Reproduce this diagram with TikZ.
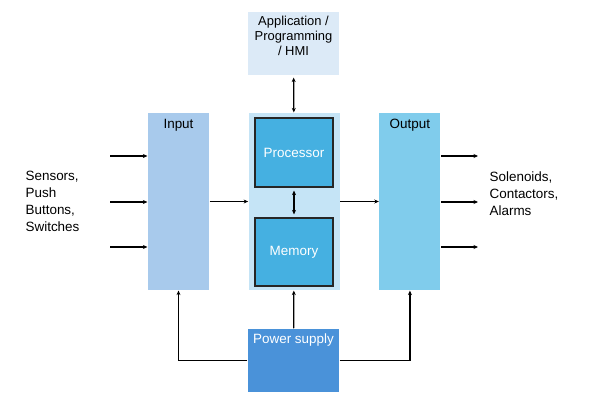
\documentclass[tikz,border=0pt]{standalone}
\usepackage{fontspec}
\setmainfont{Liberation Sans}
\usepackage{xcolor}
\usetikzlibrary{arrows.meta,positioning}

\definecolor{inblue}{RGB}{168,202,236}
\definecolor{cpublue}{RGB}{197,228,246}
\definecolor{procblue}{RGB}{69,176,225}
\definecolor{outblue}{RGB}{128,204,236}
\definecolor{appblue}{RGB}{220,234,247}
\definecolor{psublue}{RGB}{74,146,217}

\begin{document}
\begin{tikzpicture}[x=1bp,y=-1bp,node distance=38.5bp,
  every node/.style={font=\fontsize{13.5}{17}\selectfont},
  >={Stealth[length=4.5bp,width=4bp]},
  every path/.style={line width=1.2bp}]
\useasboundingbox (0,0) rectangle (596,402);
\node[fill=inblue,inner sep=0pt,minimum width=61bp,minimum height=177bp,
  label={[anchor=north,inner sep=0pt,yshift=-6bp]north:Input}] (in) at (178.5,201.5) {};
\node[fill=cpublue,inner sep=0pt,right=of in,minimum width=91bp,minimum height=177bp] (cpu) {};
\node[fill=outblue,inner sep=0pt,right=of cpu,minimum width=61bp,minimum height=177bp,
  label={[anchor=north,inner sep=0pt,yshift=-6bp]north:Output}] (out) {};
\node[draw=black!85,fill=procblue,text=white,minimum width=78bp,minimum height=69bp] (proc) at (294,152.5) {Processor};
\node[draw=black!85,fill=procblue,text=white,minimum width=78bp,minimum height=68bp] (mem) at (294,252) {Memory};
\node[fill=appblue,inner sep=0pt,minimum width=91bp,minimum height=63bp,
  label={[anchor=north,align=center,inner sep=0pt,yshift=-4bp,font=\fontsize{13}{15}\selectfont]north:Application /\\Programming\\/ HMI}] (app) at (293.5,43.5) {};
\node[fill=psublue,inner sep=0pt,minimum width=91bp,minimum height=63bp,
  label={[anchor=north,inner sep=0pt,yshift=-5bp,text=white]north:Power supply}] (psu) at (293.5,360.5) {};
\node[anchor=west,align=left,inner sep=0pt] (sens) at (25,201) {Sensors,\\Push\\Buttons,\\Switches};
\node[anchor=west,align=left,inner sep=0pt] (act) at (489,193.5) {Solenoids,\\Contactors,\\Alarms};
\draw[<->,shorten <=2bp] (app) -- (cpu);
\draw[<->,shorten <=3bp,shorten >=3bp] (proc) -- (mem);
\draw[->] (in) -- (cpu);
\draw[->] (cpu) -- (out);
\foreach \y [count=\i] in {156,202,247} {
  \coordinate (src\i) at (110,\y);
  \coordinate (dst\i) at (478,\y);
  \draw[->] (src\i) -- (src\i -| in.west);
  \draw[->] (dst\i -| out.east) -- (dst\i);
}
\draw[->] (psu) -- (cpu);
\draw[->] (psu.west) -| (in);
\draw[->] (psu.east) -| (out);
\end{tikzpicture}
\end{document}
